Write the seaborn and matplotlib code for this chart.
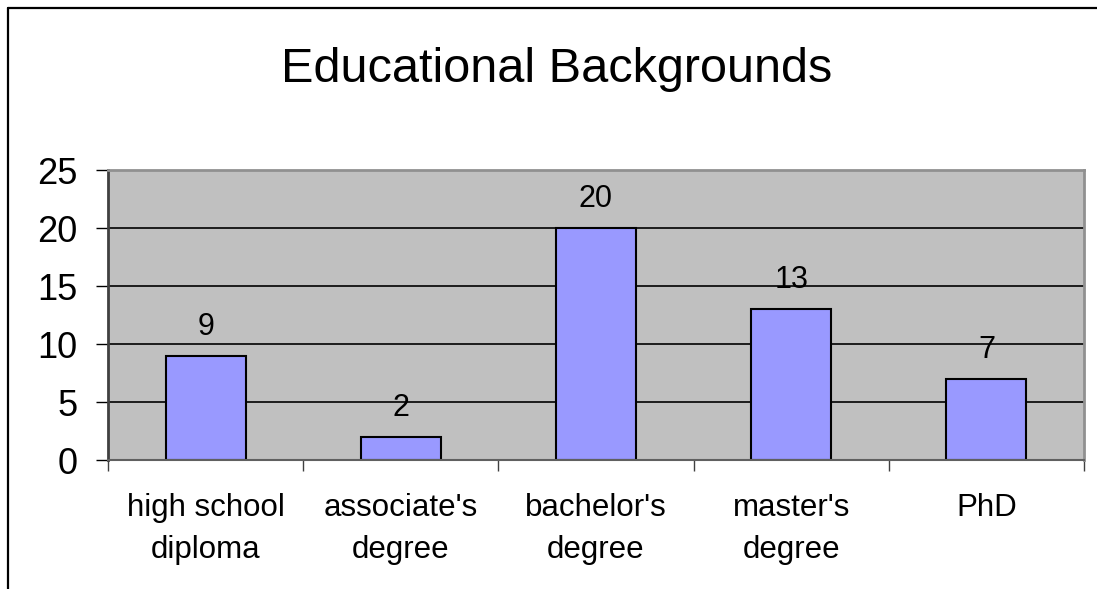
# %% ---- Requirements and constants
import pandas as pd
import seaborn as sns
import matplotlib.pyplot as plt
from matplotlib.lines import Line2D
from matplotlib.ticker import FixedLocator

categories = ['high school\ndiploma', "associate's\ndegree", "bachelor's\ndegree",
              "master's\ndegree", 'PhD']
counts = [9, 2, 20, 13, 7]
y_ticks = [0, 5, 10, 15, 20, 25]
title = 'Educational Backgrounds'

# %% ---- Plot
sns.set_style('white')
plt.rcParams['font.family'] = ['Liberation Sans', 'DejaVu Sans']
plt.rcParams['text.color'] = 'black'
plt.rcParams['xtick.labelcolor'] = 'black'
plt.rcParams['ytick.labelcolor'] = 'black'

df = pd.DataFrame({'level': categories, 'count': counts})

fig = plt.figure(figsize=(10.97, 5.89), dpi=100)
ax = fig.add_axes([108 / 1097, 1 - 460 / 589, (1084 - 108) / 1097, (460 - 170) / 589])

sns.barplot(df, x='level', y='count', color='#9999FF', saturation=1,
            width=0.41, edgecolor='black', linewidth=1.5, ax=ax)

ax.set_facecolor('#C0C0C0')
ax.set_xlim(-0.5, len(categories) - 0.5)
ax.set_ylim(0, 25)
ax.set_yticks(y_ticks)
ax.yaxis.grid(True, color='black', linewidth=1.2)
ax.set_axisbelow(True)
ax.set_xlabel('')
ax.set_ylabel('')

# category separators as minor ticks
ax.xaxis.set_minor_locator(FixedLocator([i - 0.5 for i in range(len(categories) + 1)]))
ax.tick_params(axis='x', which='major', length=0, labelsize=22.5, pad=24)
ax.tick_params(axis='x', which='minor', length=8, width=1, color='#404040', bottom=True)
ax.tick_params(axis='y', length=9, width=1, color='black', labelsize=26, pad=13, left=True)
for lbl in ax.get_xticklabels():
    lbl.set_linespacing(1.5)

for side in ['top', 'right']:
    ax.spines[side].set_color('#909090')
    ax.spines[side].set_linewidth(2)
ax.spines['left'].set_color('#404040')
ax.spines['left'].set_linewidth(2)
ax.spines['bottom'].set_color('#606060')
ax.spines['bottom'].set_linewidth(1.5)

ax.bar_label(ax.containers[0], labels=[str(v) for v in counts], padding=10, fontsize=22)

fig.text(557 / 1097, 1 - 82 / 589, title, ha='center', va='baseline', fontsize=35)

# outer chart border (cut off at right and bottom)
fig.add_artist(Line2D([8 / 1097, 8 / 1097], [0, 1 - 8 / 589], color='black', linewidth=1.6,
                      transform=fig.transFigure))
fig.add_artist(Line2D([8 / 1097, 1], [1 - 8 / 589, 1 - 8 / 589], color='black', linewidth=1.6,
                      transform=fig.transFigure))

fig.savefig('out.png', dpi=100)
